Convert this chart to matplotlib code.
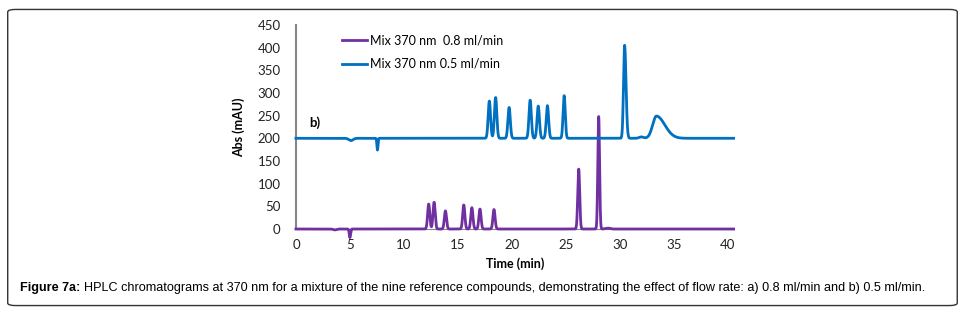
import matplotlib.pyplot as plt
import numpy as np
from matplotlib.patches import FancyBboxPatch

# retention times (min), heights (mAU) and widths
# a) 0.8 ml/min
rt_a = [3.6, 5.0, 12.3, 12.8, 13.85, 15.55, 16.3, 17.05, 18.35, 26.2, 28.05, 28.9]
h_a = [-2, -19, 55, 59, 40, 53, 47, 44, 43, 132, 248, 2]
w_a = [0.15, 0.06, 0.1, 0.1, 0.1, 0.1, 0.1, 0.1, 0.1, 0.09, 0.08, 0.2]
tail_a = [1, 1, 1, 1, 1, 1, 1, 1, 1, 1, 1, 1]

# b) 0.5 ml/min, plotted with a +200 offset
offset_b = 200
rt_b = [5.1, 7.55, 17.92, 18.5, 19.75, 21.7, 22.45, 23.3, 24.85, 30.45, 32.0, 33.4]
h_b = [-5, -26, 82, 90, 68, 84, 71, 72, 94, 205, 3, 49]
w_b = [0.2, 0.05, 0.11, 0.11, 0.11, 0.11, 0.11, 0.11, 0.1, 0.1, 0.2, 0.35]
tail_b = [1, 1, 1, 1, 1, 1, 1, 1, 1, 1.3, 1, 2.2]

caption_head = 'Figure 7a:'
caption_body = ('HPLC chromatograms at 370 nm for a mixture of the nine reference compounds, '
                'demonstrating the effect of flow rate: a) 0.8 ml/min and b) 0.5 ml/min.')

t = np.linspace(0, 40.55, 4000)


def trace(rts, hs, ws, tails):
    y = np.zeros_like(t)
    for rt, h, w, k in zip(rts, hs, ws, tails):
        s = np.where(t < rt, w, w * k)
        y += h * np.exp(-0.5 * ((t - rt) / s) ** 2)
    return y


y_a = trace(rt_a, h_a, w_a, tail_a)
y_b = trace(rt_b, h_b, w_b, tail_b) + offset_b

purple = '#7030A0'
blue = '#0070C0'

plt.rcParams['font.family'] = ['Lato', 'DejaVu Sans']
fig = plt.figure(figsize=(9.64, 3.15), dpi=100)
ax = fig.add_axes([0.307, 0.273, 0.454, 0.648])

ax.plot(t, y_a, color=purple, lw=2.0, clip_on=False, label='Mix 370 nm  0.8 ml/min', zorder=3)
ax.plot(t, y_b, color=blue, lw=2.0, clip_on=False, label='Mix 370 nm 0.5 ml/min', zorder=3)

ax.set_xlim(0, 40.55)
ax.set_ylim(0, 450)
ax.set_xticks(np.arange(0, 41, 5))
ax.set_yticks(np.arange(0, 451, 50))
for s in ['top', 'right']:
    ax.spines[s].set_visible(False)
ax.spines['left'].set_color('#868686')
ax.spines['bottom'].set_color('#868686')
ax.spines['left'].set_linewidth(1.5)
ax.tick_params(length=0, labelsize=9.5, colors='#222222', pad=11)
ax.tick_params(axis='x', pad=7)

ax.set_xlabel('Time (min)', fontsize=9, fontweight='bold', labelpad=5)
ax.set_ylabel('Abs (mAU)', fontsize=9, fontweight='bold', labelpad=9)

ax.text(1.2, 235, 'b)', fontsize=9.5, fontweight='bold', va='center')

ax.legend(loc='upper left', bbox_to_anchor=(0.08, 1.01), frameon=False, fontsize=9,
          handlelength=2.0, handletextpad=0.2, labelspacing=0.95)

# caption and outer frame
box = FancyBboxPatch((0.008, 0.03), 0.985, 0.94, boxstyle='round,pad=0,rounding_size=0.008',
                     transform=fig.transFigure, fill=False, edgecolor='#333333', lw=1.0)
fig.patches.append(box)
cap = fig.text(0.021, 0.085, caption_head, fontsize=9.1, fontweight='bold',
               family='Liberation Sans', va='center')
ax.annotate(caption_body, xy=(1, 0.5), xycoords=cap, xytext=(2.5, 0), textcoords='offset points',
            fontsize=9.1, family='Liberation Sans', va='center', annotation_clip=False)

plt.savefig('out.png', dpi=100)
